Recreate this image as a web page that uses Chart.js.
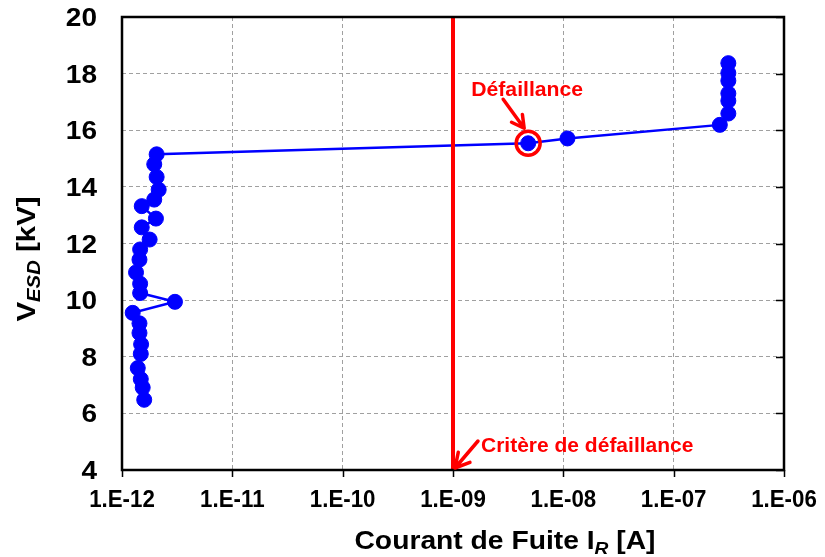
<!DOCTYPE html>
<html>
<head>
<meta charset="utf-8">
<script src="https://cdn.jsdelivr.net/npm/chart.js@4.4.1/dist/chart.umd.min.js"></script>
<style>
  html, body { margin: 0; padding: 0; background: #ffffff; }
  #wrap { width: 825px; height: 557px; }
</style>
</head>
<body>
<div id="wrap"><canvas id="chart" width="825" height="557"></canvas></div>
<script>
// ESD stress steps (kV) and leakage current measured after each step (A)
const voltageKV = [
  6.48, 6.91, 7.21, 7.60, 8.10, 8.44, 8.84, 9.18, 9.55, 9.94,
  10.25, 10.58, 10.98, 11.43, 11.79, 12.14, 12.57, 12.88, 13.32, 13.55,
  13.90, 14.35, 14.80, 15.15, 15.54, 15.71, 16.19, 16.59, 17.04, 17.30,
  17.75, 18.02, 18.37
];
const leakageA = [
  1.59e-12, 1.54e-12, 1.48e-12, 1.39e-12, 1.48e-12, 1.49e-12, 1.44e-12, 1.44e-12, 1.25e-12, 3.02e-12,
  1.46e-12, 1.46e-12, 1.34e-12, 1.44e-12, 1.46e-12, 1.78e-12, 1.51e-12, 2.03e-12, 1.51e-12, 1.96e-12,
  2.15e-12, 2.06e-12, 1.96e-12, 2.06e-12, 4.8e-9, 1.09e-8, 2.62e-7, 3.13e-7, 3.13e-7, 3.13e-7,
  3.13e-7, 3.13e-7, 3.13e-7
];
// failure criterion on leakage current (A)
const criterionA = [1e-9];
// index of the first step that exceeds the criterion
const failureStep = [24];

// axis ticks
const xTickValues = [1e-12, 1e-11, 1e-10, 1e-9, 1e-8, 1e-7, 1e-6];
const xTickLabels = ['1.E-12', '1.E-11', '1.E-10', '1.E-09', '1.E-08', '1.E-07', '1.E-06'];
const yTickValues = [4, 6, 8, 10, 12, 14, 16, 18, 20];
const yTickLabels = ['4', '6', '8', '10', '12', '14', '16', '18', '20'];

// text
const xTitleParts = ['Courant de Fuite I', 'R', ' [A]'];
const yTitleParts = ['V', 'ESD', ' [kV]'];
const failureLabel = 'Défaillance';
const criterionLabel = 'Critère de défaillance';

const FONT = '"Liberation Sans", Arial, Helvetica, sans-serif';
const BLUE = '#0000FF';
const RED = '#FF0000';

const yMin = yTickValues[0];
const yMax = yTickValues[yTickValues.length - 1];

const measured = voltageKV.map((v, i) => ({ x: leakageA[i], y: v }));
const criterionLine = [{ x: criterionA[0], y: yMin }, { x: criterionA[0], y: yMax }];
const failurePoint = [{ x: leakageA[failureStep[0]], y: voltageKV[failureStep[0]] }];

// draw text with a horizontal stretch factor
function stretched(ctx, text, x, y, sx, align) {
  ctx.save();
  ctx.translate(x, y);
  ctx.scale(sx, 1);
  ctx.textAlign = align;
  ctx.textBaseline = 'alphabetic';
  ctx.fillText(text, 0, 0);
  ctx.restore();
}

// draw a run of text with a subscript in the middle, centred on (0,0)
function subscriptTitle(ctx, parts, mainFont, subFont, subDy, sx) {
  const fonts = [mainFont, subFont, mainFont];
  const widths = parts.map((p, i) => { ctx.font = fonts[i]; return ctx.measureText(p).width; });
  const total = widths.reduce((a, b) => a + b, 0);
  ctx.save();
  ctx.scale(sx, 1);
  let x = -total / 2;
  ctx.textAlign = 'left';
  ctx.textBaseline = 'alphabetic';
  parts.forEach((p, i) => {
    ctx.font = fonts[i];
    ctx.fillText(p, x, i === 1 ? subDy : 0);
    x += widths[i];
  });
  ctx.restore();
}

function arrow(ctx, x0, y0, x1, y1, head) {
  const a = Math.atan2(y1 - y0, x1 - x0);
  ctx.beginPath();
  ctx.moveTo(x0, y0);
  ctx.lineTo(x1, y1);
  ctx.moveTo(x1 - head * Math.cos(a - 0.5), y1 - head * Math.sin(a - 0.5));
  ctx.lineTo(x1, y1);
  ctx.lineTo(x1 - head * Math.cos(a + 0.5), y1 - head * Math.sin(a + 0.5));
  ctx.stroke();
}

const decorations = {
  id: 'decorations',
  afterDraw(chart) {
    const { ctx, chartArea: ca, scales: { x, y } } = chart;
    ctx.save();

    // plot frame
    ctx.strokeStyle = '#000000';
    ctx.lineWidth = 2.5;
    ctx.setLineDash([]);
    ctx.strokeRect(ca.left, ca.top, ca.right - ca.left, ca.bottom - ca.top);

    // x tick marks below the axis
    ctx.lineWidth = 1.5;
    ctx.beginPath();
    xTickValues.forEach(v => {
      const px = Math.round(x.getPixelForValue(v)) + 0.5;
      ctx.moveTo(px, ca.bottom);
      ctx.lineTo(px, ca.bottom + 7);
    });
    // short inner marks on the right edge
    yTickValues.forEach(v => {
      const py = Math.round(y.getPixelForValue(v)) + 0.5;
      ctx.moveTo(ca.right - 8, py);
      ctx.lineTo(ca.right, py);
    });
    ctx.stroke();

    // tick labels
    ctx.fillStyle = '#000000';
    ctx.font = 'bold 25px ' + FONT;
    yTickValues.forEach((v, i) => {
      stretched(ctx, yTickLabels[i], 97, y.getPixelForValue(v) + 9, 1.12, 'right');
    });
    ctx.font = 'bold 23px ' + FONT;
    xTickValues.forEach((v, i) => {
      stretched(ctx, xTickLabels[i], x.getPixelForValue(v), 507, 0.97, 'center');
    });

    // axis titles
    ctx.save();
    ctx.translate(505, 549);
    subscriptTitle(ctx, xTitleParts, 'bold 25px ' + FONT, 'italic bold 17px ' + FONT, 5, 1.13);
    ctx.restore();

    ctx.save();
    ctx.translate(35, 259);
    ctx.rotate(-Math.PI / 2);
    subscriptTitle(ctx, yTitleParts, 'bold 26px ' + FONT, 'italic bold 18px ' + FONT, 5, 1.13);
    ctx.restore();

    // annotations
    ctx.fillStyle = RED;
    ctx.strokeStyle = RED;
    ctx.lineWidth = 3.5;
    ctx.lineCap = 'round';
    ctx.lineJoin = 'round';

    const fx = x.getPixelForValue(failurePoint[0].x);
    const fy = y.getPixelForValue(failurePoint[0].y);
    ctx.font = 'bold 20px ' + FONT;
    stretched(ctx, failureLabel, fx - 1, fy - 47, 1.06, 'center');
    arrow(ctx, fx - 25, fy - 44, fx - 4, fy - 15, 14);

    const cx = x.getPixelForValue(criterionA[0]);
    const cy = y.getPixelForValue(yMin);
    stretched(ctx, criterionLabel, cx + 28, cy - 18, 1.05, 'left');
    arrow(ctx, cx + 25, cy - 29, cx + 2, cy - 2, 16);

    ctx.restore();
  }
};

new Chart(document.getElementById('chart'), {
  type: 'scatter',
  data: {
    datasets: [
      {
        label: 'criterion',
        data: criterionLine,
        showLine: true,
        borderColor: RED,
        borderWidth: 4,
        pointRadius: 0,
        order: 0
      },
      {
        label: 'failure',
        data: failurePoint,
        showLine: false,
        pointRadius: 12,
        pointBorderWidth: 3.5,
        pointBorderColor: RED,
        pointBackgroundColor: 'rgba(0,0,0,0)',
        order: 1
      },
      {
        label: 'VESD',
        data: measured,
        showLine: true,
        borderColor: BLUE,
        backgroundColor: BLUE,
        borderWidth: 2.5,
        pointRadius: 7.5,
        pointBorderWidth: 1,
        pointBackgroundColor: BLUE,
        pointBorderColor: BLUE,
        order: 2
      }
    ]
  },
  options: {
    responsive: false,
    animation: false,
    devicePixelRatio: 1,
    layout: { padding: { left: 0, right: 41, top: 17, bottom: 0 } },
    plugins: {
      legend: { display: false },
      tooltip: { enabled: false },
      title: { display: false }
    },
    scales: {
      x: {
        type: 'logarithmic',
        min: xTickValues[0],
        max: xTickValues[xTickValues.length - 1],
        afterBuildTicks: s => { s.ticks = xTickValues.map(v => ({ value: v })); },
        afterFit: s => { s.height = 87; },
        ticks: { display: false },
        grid: { color: '#a0a0a0', lineWidth: 1, drawTicks: false },
        border: { display: false, dash: [4, 3] }
      },
      y: {
        type: 'linear',
        min: yMin,
        max: yMax,
        afterBuildTicks: s => { s.ticks = yTickValues.map(v => ({ value: v })); },
        afterFit: s => { s.width = 122; },
        ticks: { display: false },
        grid: { color: '#a0a0a0', lineWidth: 1, drawTicks: false },
        border: { display: false, dash: [4, 3] }
      }
    }
  },
  plugins: [decorations]
});
</script>
</body>
</html>
